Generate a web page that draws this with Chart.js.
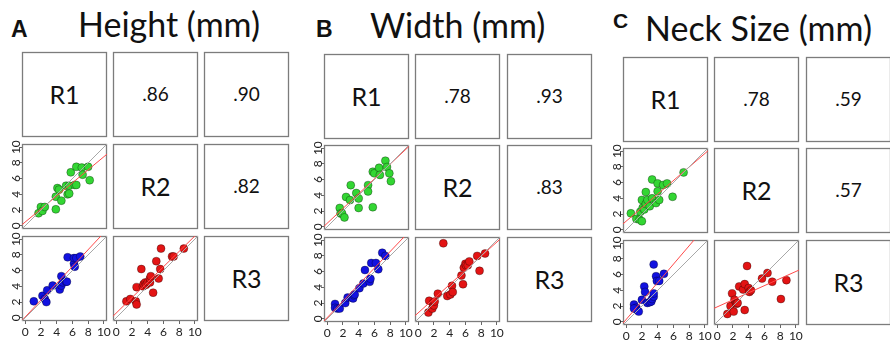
<!DOCTYPE html>
<html>
<head>
<meta charset="utf-8">
<script src="https://cdn.jsdelivr.net/npm/chart.js@4"></script>
<style>
  body { margin: 0; width: 890px; height: 343px; background: #fff; position: relative; overflow: hidden; }
  svg { position: absolute; left: 0; top: 0; }
  canvas { position: absolute; }
</style>
</head>
<body>
<svg id="frame" width="890" height="343" xmlns="http://www.w3.org/2000/svg"></svg>
<script>
// ---- data ----
const tickValues = [0, 2, 4, 6, 8, 10];
const panelLetters = ['A', 'B', 'C'];
const panelTitles = ['Height (mm)', 'Width (mm)', 'Neck Size (mm)'];
const raterLabels = ['R1', 'R2', 'R3'];

// correlations: R1-R2, R1-R3, R2-R3
const heightCorr = ['.86', '.90', '.82'];
const widthCorr = ['.78', '.93', '.83'];
const neckCorr = ['.78', '.59', '.57'];

// Height
const heightR2onR1X = [1.7, 2.0, 2.2, 2.5, 3.9, 3.9, 4.1, 4.3, 4.6, 5.2, 5.4, 5.6, 5.6, 5.8, 6.3, 6.5, 6.5, 7.2, 7.3, 8.0, 8.2];
const heightR2onR1Y = [1.6, 2.4, 1.9, 2.4, 3.7, 2.1, 4.8, 4.6, 3.2, 5.1, 4.0, 5.1, 4.1, 6.8, 5.2, 5.2, 7.5, 7.4, 6.5, 7.5, 5.8];
const heightR3onR1X = [1.1, 2.2, 2.5, 2.7, 2.8, 3.5, 4.4, 4.6, 4.6, 4.8, 5.2, 5.3, 5.4, 6.2, 6.2, 6.3, 6.5, 7.0];
const heightR3onR1Y = [2.1, 2.8, 2.4, 2.0, 3.5, 4.1, 3.6, 4.1, 5.3, 4.5, 4.6, 4.6, 7.7, 6.9, 7.6, 6.5, 7.6, 7.8];
const heightR3onR2X = [1.3, 1.8, 2.5, 2.6, 2.6, 3.2, 3.4, 3.5, 3.7, 3.8, 4.0, 4.3, 4.3, 4.4, 4.7, 5.1, 5.4, 5.6, 5.7, 7.1, 7.3, 8.6];
const heightR3onR2Y = [2.1, 2.4, 2.1, 1.7, 3.9, 6.2, 4.0, 4.3, 4.5, 4.2, 4.5, 4.5, 5.0, 5.3, 3.2, 7.2, 5.0, 6.2, 8.8, 7.8, 7.8, 8.8];
const heightIntercepts = [0.48, 0.10, 0.60];
const heightSlopes = [0.83, 1.07, 0.98];

// Width
const widthR2onR1X = [1.6, 1.7, 1.9, 2.2, 2.4, 2.9, 3.0, 3.7, 4.0, 4.0, 5.2, 5.2, 5.8, 5.8, 6.0, 6.6, 6.7, 7.4, 7.6, 7.9, 8.1];
const widthR2onR1Y = [2.4, 1.7, 1.7, 1.2, 3.8, 3.4, 5.3, 4.3, 3.6, 2.4, 5.3, 4.5, 2.5, 7.0, 6.8, 7.5, 6.6, 8.4, 7.6, 6.8, 5.8];
const widthR3onR1X = [1.0, 1.0, 1.3, 1.6, 2.3, 2.6, 3.1, 3.3, 3.4, 3.5, 4.1, 4.6, 4.8, 5.4, 5.5, 5.6, 6.2, 6.5, 7.0, 7.4];
const widthR3onR1Y = [1.9, 1.4, 1.3, 1.3, 2.0, 2.7, 2.7, 2.6, 3.0, 3.1, 3.9, 4.5, 6.2, 4.7, 5.1, 7.1, 7.1, 6.3, 8.4, 8.0];
const widthR3onR2X = [1.3, 1.4, 1.8, 1.9, 2.0, 2.1, 2.5, 3.2, 3.7, 4.1, 4.3, 4.4, 5.5, 5.7, 5.8, 6.0, 6.1, 6.3, 6.5, 7.5, 7.8, 8.5];
const widthR3onR2Y = [0.8, 2.3, 1.3, 2.0, 1.7, 2.2, 3.2, 9.6, 2.9, 3.1, 4.2, 3.4, 5.5, 4.4, 6.5, 7.0, 6.8, 6.8, 7.3, 8.0, 6.1, 8.3];
const widthIntercepts = [0.45, 0.15, 0.76];
const widthSlopes = [0.94, 1.05, 0.90];

// Neck size
const neckR2onR1X = [0.6, 1.3, 1.7, 2.0, 1.8, 2.0, 2.1, 2.3, 2.5, 2.5, 2.7, 3.0, 3.3, 3.3, 3.8, 4.0, 4.0, 4.2, 4.7, 5.2, 5.9, 7.3];
const neckR2onR1Y = [2.1, 1.4, 1.3, 1.1, 2.3, 3.8, 2.8, 2.6, 3.3, 4.8, 3.8, 3.0, 4.0, 6.4, 3.4, 5.9, 4.9, 3.8, 5.7, 5.9, 4.2, 7.3];
const neckR3onR1X = [1.0, 1.3, 1.4, 1.6, 1.0, 2.0, 2.3, 2.4, 2.7, 3.0, 3.2, 3.3, 3.5, 3.5, 3.5, 3.8, 3.9, 4.2, 4.8];
const neckR3onR1Y = [2.2, 1.8, 1.5, 1.3, 1.7, 2.8, 4.5, 3.8, 2.4, 2.5, 2.6, 2.9, 3.2, 3.6, 7.3, 5.8, 5.2, 5.2, 6.1];
const neckR3onR2X = [1.3, 1.7, 1.9, 2.1, 2.2, 2.4, 2.5, 2.6, 2.8, 3.3, 3.5, 3.5, 3.8, 4.0, 4.1, 4.3, 5.7, 6.4, 7.0, 8.1, 8.8];
const neckR3onR2Y = [1.0, 2.0, 3.6, 1.3, 2.8, 2.4, 2.3, 2.4, 4.5, 4.1, 1.5, 4.8, 7.1, 4.3, 3.8, 4.0, 5.5, 6.2, 5.1, 2.9, 5.3];
const neckIntercepts = [1.1, 0.3, 1.9];
const neckSlopes = [0.86, 1.17, 0.45];

// ---- layout ----
const BOX = 85;
const MARGIN = 10;
const axisMin = -0.4, axisMax = 10.4;
const boxColor = '#7c7c7c';
const pointColors = ['#33d633', '#1212e0', '#e31414']; // R2~R1, R3~R1, R3~R2

const panels = [
  { cols: [22, 113, 204], rows: [52, 144, 236], letterX: 11, letterY: 37, letterSize: 23, titleX: 78, titleY: 37,
    corr: heightCorr, sets: [[heightR2onR1X, heightR2onR1Y], [heightR3onR1X, heightR3onR1Y], [heightR3onR2X, heightR3onR2Y]],
    a: heightIntercepts, b: heightSlopes },
  { cols: [324, 415, 507], rows: [54, 145, 237], letterX: 316, letterY: 37, letterSize: 23, titleX: 370, titleY: 38,
    corr: widthCorr, sets: [[widthR2onR1X, widthR2onR1Y], [widthR3onR1X, widthR3onR1Y], [widthR3onR2X, widthR3onR2Y]],
    a: widthIntercepts, b: widthSlopes },
  { cols: [623, 714, 806], rows: [57, 148, 240], letterX: 613, letterY: 28, letterSize: 21, titleX: 645, titleY: 41,
    corr: neckCorr, sets: [[neckR2onR1X, neckR2onR1Y], [neckR3onR1X, neckR3onR1Y], [neckR3onR2X, neckR3onR2Y]],
    a: neckIntercepts, b: neckSlopes }
];

// ---- svg frame: titles and text cells ----
const svg = document.getElementById('frame');
function svgEl(tag, attrs, text) {
  const el = document.createElementNS('http://www.w3.org/2000/svg', tag);
  for (const k in attrs) el.setAttribute(k, attrs[k]);
  if (text) el.textContent = text;
  svg.appendChild(el);
  return el;
}

panels.forEach((p, i) => {
  svgEl('text', { x: p.letterX, y: p.letterY, 'font-family': 'Liberation Sans, Arial', 'font-weight': 'bold',
    'font-size': p.letterSize, fill: '#111' }, panelLetters[i]);
  svgEl('text', { x: p.titleX, y: p.titleY, 'font-family': 'Lato', 'font-size': 34, fill: '#111' }, panelTitles[i]);
  for (let r = 0; r < 3; r++) {
    for (let c = r; c < 3; c++) {
      const x = p.cols[c], y = p.rows[r];
      svgEl('rect', { x: x + 0.5, y: y + 0.5, width: BOX - 1, height: BOX - 1, fill: 'none', stroke: boxColor, 'stroke-width': 1.3 });
      const diag = r === c;
      const size = diag ? 25 : 19;
      const label = diag ? raterLabels[r] : p.corr[r + c - 1];
      svgEl('text', { x: x + BOX / 2, y: y + BOX / 2 + size * 0.36, 'text-anchor': 'middle',
        'font-family': 'Lato', 'font-size': size, fill: '#111' }, label);
    }
  }
});

// ---- scatter cells drawn with Chart.js ----
const boxPlugin = {
  id: 'box',
  beforeDatasetsDraw(chart) {
    const { ctx, chartArea: a } = chart;
    ctx.save();
    ctx.strokeStyle = boxColor;
    ctx.lineWidth = 1.3;
    ctx.strokeRect(a.left + 0.5, a.top + 0.5, a.width - 1, a.height - 1);
    ctx.restore();
  }
};

const cellOrder = [[1, 0], [2, 0], [2, 1]]; // row, col for each set

panels.forEach(p => {
  cellOrder.forEach(([r, c], k) => {
    const showY = c === 0, showX = r === 2;
    const yw = showY ? 22 : 0, xh = showX ? 18 : 0;
    const cv = document.createElement('canvas');
    cv.width = yw + BOX + 2 * MARGIN;
    cv.height = BOX + xh + 2 * MARGIN;
    cv.style.left = (p.cols[c] - yw - MARGIN) + 'px';
    cv.style.top = (p.rows[r] - MARGIN) + 'px';
    document.body.appendChild(cv);

    const [xs, ys] = p.sets[k];
    const pts = xs.map((x, j) => ({ x: x, y: ys[j] }));
    const fit = [axisMin, axisMax].map(x => ({ x: x, y: p.a[k] + p.b[k] * x }));

    const tickFont = { family: 'Lato', size: 12 };
    new Chart(cv, {
      type: 'scatter',
      data: {
        datasets: [
          { data: [{ x: axisMin, y: axisMin }, { x: axisMax, y: axisMax }], showLine: true,
            borderColor: '#a8a8a8', borderWidth: 1, pointRadius: 0 },
          { data: fit, showLine: true, borderColor: '#ff4a4a', borderWidth: 1, pointRadius: 0 },
          { data: pts, backgroundColor: pointColors[k], borderColor: 'rgba(0,0,0,0.45)',
            borderWidth: 0.7, pointRadius: 4 }
        ]
      },
      options: {
        responsive: false, animation: false, devicePixelRatio: 1, events: [],
        layout: { padding: MARGIN },
        plugins: { legend: { display: false }, tooltip: { enabled: false } },
        scales: {
          x: {
            type: 'linear', min: axisMin, max: axisMax, display: showX,
            afterBuildTicks: s => { s.ticks = tickValues.map(v => ({ value: v })); },
            afterFit: s => { s.height = xh; s.paddingLeft = 0; s.paddingRight = 0; },
            grid: { drawOnChartArea: false, tickLength: 3, color: '#666' },
            border: { display: false },
            ticks: { font: tickFont, color: '#222', padding: 1, maxRotation: 0, autoSkip: false }
          },
          y: {
            type: 'linear', min: axisMin, max: axisMax, display: showY,
            afterBuildTicks: s => { s.ticks = tickValues.map(v => ({ value: v })); },
            afterFit: s => { s.width = yw; s.paddingTop = 0; s.paddingBottom = 0; },
            grid: { drawOnChartArea: false, tickLength: 3, color: '#666' },
            border: { display: false },
            ticks: { font: tickFont, color: '#222', padding: -4, minRotation: 90, maxRotation: 90,
                     crossAlign: 'center', autoSkip: false }
          }
        }
      },
      plugins: [boxPlugin]
    });
  });
});
</script>
</body>
</html>
